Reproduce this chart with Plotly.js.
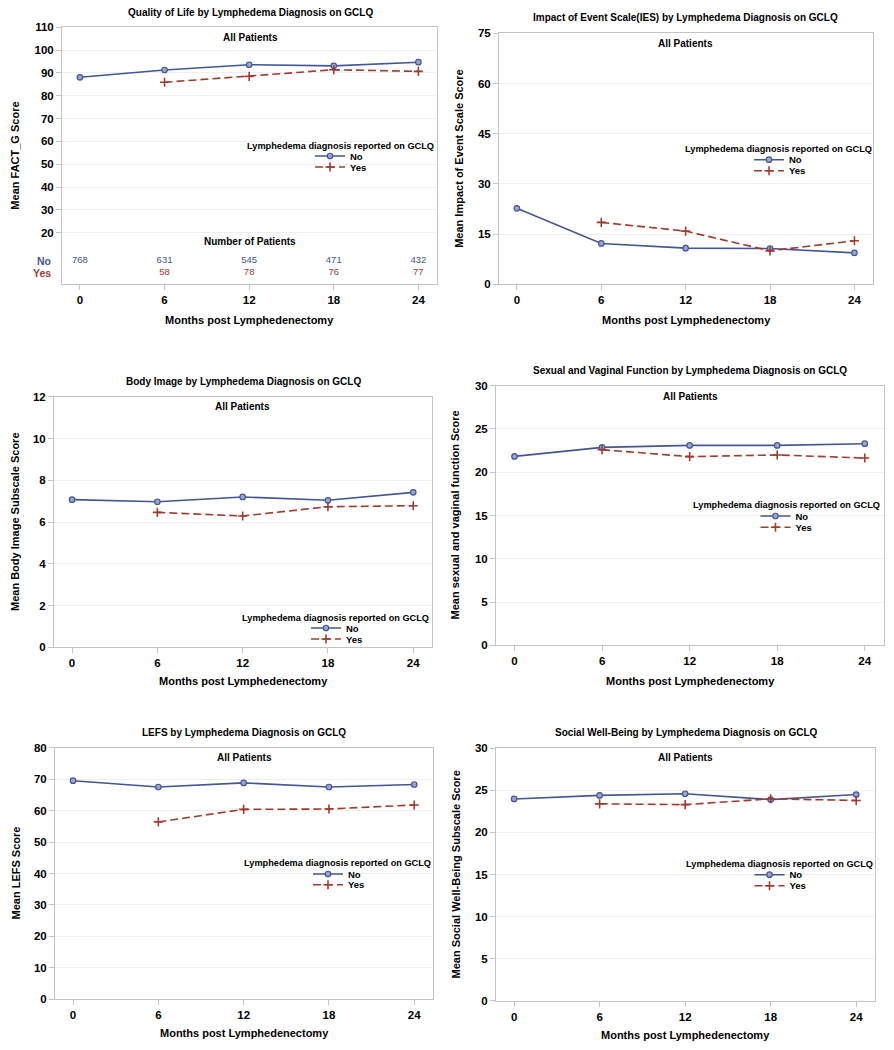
<!DOCTYPE html>
<html>
<head>
<meta charset="utf-8">
<script src="https://cdn.plot.ly/plotly-3.0.1.min.js"></script>
<style>
  body { margin: 0; background: #fff; }
  #plot { width: 894px; height: 1050px; }
</style>
</head>
<body>
<div id="plot"></div>
<script>
// months after lymphadenectomy
var months = [0, 6, 12, 18, 24];

// mean scores: No = no lymphedema, Yes = lymphedema reported on GCLQ
var factgNo = [88.1, 91.3, 93.6, 93.1, 94.7];
var factgYes = [null, 85.9, 88.5, 91.4, 90.7];
var iesNo = [22.7, 12.2, 10.8, 10.7, 9.4];
var iesYes = [null, 18.5, 15.9, 10.0, 13.0];
var bodyNo = [7.07, 6.97, 7.2, 7.04, 7.42];
var bodyYes = [null, 6.46, 6.29, 6.73, 6.78];
var sexNo = [21.83, 22.87, 23.1, 23.1, 23.3];
var sexYes = [null, 22.6, 21.8, 22.0, 21.64];
var lefsNo = [69.5, 67.5, 68.8, 67.5, 68.3];
var lefsYes = [null, 56.4, 60.4, 60.5, 61.8];
var socialNo = [23.98, 24.4, 24.6, 23.9, 24.5];
var socialYes = [null, 23.4, 23.3, 24.0, 23.8];

// number of patients (shown under the FACT-G plot)
var countNo = [768, 631, 545, 471, 432];
var countYes = [null, 58, 78, 76, 77];

var panelTitles = [
  "Quality of Life by Lymphedema Diagnosis on GCLQ",
  "Impact of Event Scale(IES) by Lymphedema Diagnosis on GCLQ",
  "Body Image by Lymphedema Diagnosis on GCLQ",
  "Sexual and Vaginal Function by Lymphedema Diagnosis on GCLQ",
  "LEFS by Lymphedema Diagnosis on GCLQ",
  "Social Well-Being by Lymphedema Diagnosis on GCLQ"
];
var yTitles = [
  "Mean FACT_G Score",
  "Mean Impact of Event Scale Score",
  "Mean Body Image Subscale Score",
  "Mean sexual and vaginal function Score",
  "Mean LEFS Score",
  "Mean Social Well-Being Subscale Score"
];
var seriesNo = [factgNo, iesNo, bodyNo, sexNo, lefsNo, socialNo];
var seriesYes = [factgYes, iesYes, bodyYes, sexYes, lefsYes, socialYes];
var groupNames = ["No", "Yes"];
var legendTitle = "Lymphedema diagnosis reported on GCLQ";

var W = 894, H = 1050;
var blue = "#445694", red = "#A23A2E";
var FONT = "Liberation Sans, Arial, sans-serif";
function px(x) { return x / W; }
function py(y) { return 1 - y / H; }

// plot frames in pixels [left, right, top, bottom] and layout bits per panel
var panels = [
  { box: [62, 437, 27.3, 284], yr: [-2.48, 110], tv: [20, 30, 40, 50, 60, 70, 80, 90, 100, 110],
    title: [250, 12], all: [250, 37.7], lt: [340.7, 145.7], noY: 156, yesY: 167, lineX: 315, yt: 15, xt: 320 },
  { box: [499, 873, 33.3, 284.3], yr: [0, 75], tv: [0, 15, 30, 45, 60, 75],
    title: [685.7, 18], all: [685.7, 43.3], lt: [778.3, 149], noY: 159.7, yesY: 170.7, lineX: 754, yt: 459, xt: 320 },
  { box: [54, 432, 396.7, 647.3], yr: [0, 12], tv: [0, 2, 4, 6, 8, 10, 12],
    title: [243, 381], all: [242.7, 406], lt: [335.8, 617.7], noY: 628, yesY: 639, lineX: 311, yt: 15, xt: 681 },
  { box: [496, 884, 385.7, 645.3], yr: [0, 30], tv: [0, 5, 10, 15, 20, 25, 30],
    title: [690, 370], all: [690, 396], lt: [786.2, 505.3], noY: 516, yesY: 527.3, lineX: 760.5, yt: 454, xt: 681 },
  { box: [55, 433, 747.7, 999.3], yr: [0, 80], tv: [0, 10, 20, 30, 40, 50, 60, 70, 80],
    title: [244, 732], all: [244.3, 757.3], lt: [337.5, 863.3], noY: 874, yesY: 884.7, lineX: 313, yt: 15, xt: 1033 },
  { box: [496, 875, 748.3, 1000.7], yr: [0, 30], tv: [0, 5, 10, 15, 20, 25, 30],
    title: [685.7, 732], all: [685.7, 757.3], lt: [779.5, 864], noY: 874.7, yesY: 885.7, lineX: 754.5, yt: 455, xt: 1035 }
];

var traces = [];
var annotations = [];
var layout = {
  width: W, height: H,
  margin: { l: 0, r: 0, t: 0, b: 0 },
  paper_bgcolor: "#fff",
  plot_bgcolor: "#fff",
  font: { family: FONT, color: "#000" },
  showlegend: true,
  annotations: annotations
};

function ann(text, x, y, size, extra) {
  var a = {
    text: text, xref: "paper", yref: "paper", x: px(x), y: py(y),
    xanchor: "center", yanchor: "middle", showarrow: false,
    font: { family: FONT, size: size, color: "#000", weight: "bold" }
  };
  for (var k in extra) a[k] = extra[k];
  annotations.push(a);
}

panels.forEach(function (p, i) {
  var n = i + 1;
  var xa = "x" + (n === 1 ? "" : n), ya = "y" + (n === 1 ? "" : n);
  var lgNo = "legend" + (2 * n - 1 === 1 ? "" : 2 * n - 1);
  var lgYes = "legend" + (2 * n);
  var b = p.box;

  layout["xaxis" + (n === 1 ? "" : n)] = {
    domain: [px(b[0]), px(b[1])], anchor: ya,
    range: [-1.27, 25.32], tickvals: months,
    showgrid: false, zeroline: false,
    showline: true, mirror: true, linecolor: "#c4c4c4", linewidth: 1,
    ticks: "outside", ticklen: 5, tickcolor: "#c4c4c4",
    tickfont: { family: FONT, size: 11.5, weight: "bold", color: "#000" }
  };
  layout["yaxis" + (n === 1 ? "" : n)] = {
    domain: [py(b[3]), py(b[2])], anchor: xa,
    range: p.yr, tickvals: p.tv,
    showgrid: true, gridcolor: "#efefef", zeroline: false,
    showline: true, mirror: true, linecolor: "#c4c4c4", linewidth: 1,
    ticks: "outside", ticklen: 5, tickcolor: "#c4c4c4",
    tickfont: { family: FONT, size: 11.5, weight: "bold", color: "#000" }
  };

  traces.push({
    type: "scatter", mode: "lines+markers", x: months, y: seriesNo[i],
    name: groupNames[0], xaxis: xa, yaxis: ya, legend: lgNo,
    line: { color: blue, width: 1.6 },
    marker: { symbol: "circle", size: 5.5, color: "#9aa5d2", line: { color: blue, width: 1.2 } }
  });
  traces.push({
    type: "scatter", mode: "lines+markers", x: months, y: seriesYes[i],
    name: groupNames[1], xaxis: xa, yaxis: ya, legend: lgYes,
    line: { color: red, width: 1.6, dash: "8px,4px" },
    marker: { symbol: "cross-thin", size: 6.5, color: red, line: { color: red, width: 1.6 } }
  });

  // one legend per entry so the two rows can sit close together
  [[lgNo, p.noY], [lgYes, p.yesY]].forEach(function (l) {
    layout[l[0]] = {
      x: px(p.lineX - 5), xanchor: "left", y: py(l[1]), yanchor: "middle",
      bgcolor: "rgba(0,0,0,0)", borderwidth: 0,
      font: { family: FONT, size: 9.5, weight: "bold", color: "#000" }
    };
  });

  ann(panelTitles[i], p.title[0], p.title[1], 10);
  ann("All Patients", p.all[0], p.all[1], 10);
  ann(legendTitle, p.lt[0], p.lt[1], 9.2);
  ann(yTitles[i], p.yt, (b[2] + b[3]) / 2, 11, { textangle: -90 });
  ann("Months post Lymphedenectomy", (b[0] + b[1]) / 2, p.xt, 11);
});

// patient counts table inside the FACT-G panel
traces.push({
  type: "scatter", mode: "text", x: months, y: countNo.map(function () { return 7.6; }),
  text: countNo.map(String), textfont: { family: FONT, size: 9.5, color: blue },
  xaxis: "x", yaxis: "y", showlegend: false, hoverinfo: "skip"
});
traces.push({
  type: "scatter", mode: "text", x: months,
  y: countYes.map(function (c) { return c === null ? null : 2.3; }),
  text: countYes.map(function (c) { return c === null ? "" : String(c); }),
  textfont: { family: FONT, size: 9.5, color: red },
  xaxis: "x", yaxis: "y", showlegend: false, hoverinfo: "skip"
});
ann("Number of Patients", 250, 241.7, 10);
ann(groupNames[0], 53, 261, 10.5, { xanchor: "right", font: { family: FONT, size: 10.5, weight: "bold", color: blue } });
ann(groupNames[1], 53, 273, 10.5, { xanchor: "right", font: { family: FONT, size: 10.5, weight: "bold", color: red } });

Plotly.newPlot("plot", traces, layout, { displayModeBar: false, staticPlot: true });
</script>
</body>
</html>
